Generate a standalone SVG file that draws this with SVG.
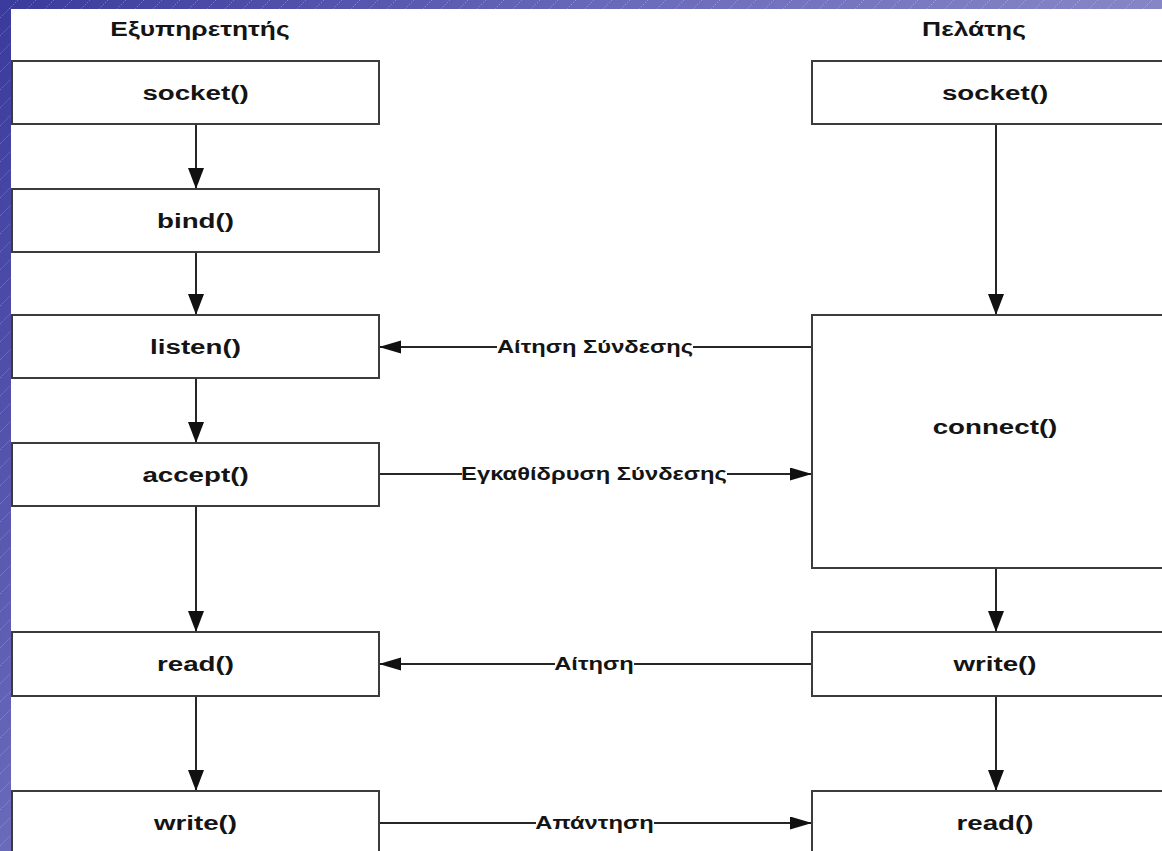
<svg xmlns="http://www.w3.org/2000/svg" width="1162" height="851" viewBox="0 0 1162 851">
  <defs>
    <linearGradient id="frameFill" gradientUnits="userSpaceOnUse" x1="0" y1="0" x2="1162" y2="851">
      <stop offset="0" stop-color="#3a3a9c"/>
      <stop offset="0.35" stop-color="#6a6abb"/>
      <stop offset="0.65" stop-color="#8686c6"/>
      <stop offset="1" stop-color="#a0a0d6"/>
    </linearGradient>
    <pattern id="hatch" patternUnits="userSpaceOnUse" width="18" height="18">
      <path d="M-2,20 L20,-2" stroke="#ffffff" stroke-opacity="0.28" stroke-width="1" stroke-dasharray="1.5 1.5"/>
    </pattern>
    <marker id="arrV" markerUnits="userSpaceOnUse" markerWidth="22" markerHeight="17" refX="21" refY="8" orient="auto" viewBox="0 0 22 17">
      <path d="M0,0 L21,8 L0,16 z" fill="#111"/>
    </marker>
    <marker id="arrH" markerUnits="userSpaceOnUse" markerWidth="23" markerHeight="14" refX="22" refY="6.5" orient="auto" viewBox="0 0 23 14">
      <path d="M0,0 L22,6.5 L0,13 z" fill="#111"/>
    </marker>
  </defs>
  <style>
    .box { fill: #ffffff; stroke: #3c3c3c; stroke-width: 2; }
    .lbl { font-family: "Liberation Sans", Arial, sans-serif; font-weight: bold; font-size: 21px; fill: #141414; text-anchor: middle; }
    .hdr { font-size: 20px; }
    .msg { font-size: 18px; }
    .flow { stroke: #262626; stroke-width: 2; fill: none; marker-end: url(#arrV); }
    .call { stroke: #262626; stroke-width: 2; fill: none; marker-end: url(#arrH); }
    .gap { fill: #ffffff; }
  </style>

  <!-- page and frame -->
  <rect width="1162" height="851" fill="#ffffff"/>
  <g id="frame">
    <rect x="0" y="0" width="1162" height="9" fill="url(#frameFill)"/>
    <rect x="0" y="0" width="11" height="851" fill="url(#frameFill)"/>
    <rect x="0" y="0" width="1162" height="9" fill="url(#hatch)"/>
    <rect x="0" y="0" width="11" height="851" fill="url(#hatch)"/>
  </g>

  <!-- column titles -->
  <g id="title-server">
    <text class="lbl hdr" transform="translate(200,36) scale(1.32,1)">Εξυπηρετητής</text>
  </g>
  <g id="title-client">
    <text class="lbl hdr" transform="translate(974,36) scale(1.32,1)">Πελάτης</text>
  </g>

  <!-- connectors -->
  <g id="connectors">
    <!-- server sequence -->
    <line class="flow" x1="196" y1="124" x2="196" y2="189"/>
    <line class="flow" x1="196" y1="252" x2="196" y2="315"/>
    <line class="flow" x1="196" y1="378" x2="196" y2="443"/>
    <line class="flow" x1="196" y1="506" x2="196" y2="632"/>
    <line class="flow" x1="196" y1="696" x2="196" y2="791"/>
    <!-- client sequence -->
    <line class="flow" x1="996" y1="124" x2="996" y2="315"/>
    <line class="flow" x1="996" y1="568" x2="996" y2="632"/>
    <line class="flow" x1="996" y1="696" x2="996" y2="791"/>
    <!-- messages between the two sides -->
    <g id="msg-request-connection">
      <line class="call" x1="812" y1="347" x2="379" y2="347"/>
      <rect class="gap" x="497" y="336" width="196" height="22"/>
      <text class="lbl msg" transform="translate(595,353) scale(1.32,1)">Αίτηση Σύνδεσης</text>
    </g>
    <g id="msg-establish-connection">
      <line class="call" x1="379" y1="474" x2="812" y2="474"/>
      <rect class="gap" x="462" y="463" width="265" height="22"/>
      <text class="lbl msg" transform="translate(594,480) scale(1.32,1)">Εγκαθίδρυση Σύνδεσης</text>
    </g>
    <g id="msg-request">
      <line class="call" x1="812" y1="664" x2="379" y2="664"/>
      <rect class="gap" x="555" y="653" width="79" height="22"/>
      <text class="lbl msg" transform="translate(594,670) scale(1.32,1)">Αίτηση</text>
    </g>
    <g id="msg-reply">
      <line class="call" x1="379" y1="823" x2="812" y2="823"/>
      <rect class="gap" x="536" y="812" width="118" height="22"/>
      <text class="lbl msg" transform="translate(594.5,829) scale(1.32,1)">Απάντηση</text>
    </g>
  </g>

  <!-- server column -->
  <g id="srv-socket">
    <rect class="box" x="12" y="61" width="367" height="63"/>
    <text class="lbl" transform="translate(195.5,100) scale(1.32,1)">socket()</text>
  </g>
  <g id="srv-bind">
    <rect class="box" x="12" y="189" width="367" height="63"/>
    <text class="lbl" transform="translate(195.5,228) scale(1.32,1)">bind()</text>
  </g>
  <g id="srv-listen">
    <rect class="box" x="12" y="315" width="367" height="63"/>
    <text class="lbl" transform="translate(195.5,354) scale(1.32,1)">listen()</text>
  </g>
  <g id="srv-accept">
    <rect class="box" x="12" y="443" width="367" height="63"/>
    <text class="lbl" transform="translate(195.5,482) scale(1.32,1)">accept()</text>
  </g>
  <g id="srv-read">
    <rect class="box" x="12" y="632" width="367" height="64"/>
    <text class="lbl" transform="translate(195.5,671) scale(1.32,1)">read()</text>
  </g>
  <g id="srv-write">
    <rect class="box" x="12" y="791" width="367" height="70"/>
    <text class="lbl" transform="translate(195.5,830) scale(1.32,1)">write()</text>
  </g>

  <!-- client column -->
  <g id="cli-socket">
    <rect class="box" x="812" y="61" width="370" height="63"/>
    <text class="lbl" transform="translate(995,100) scale(1.32,1)">socket()</text>
  </g>
  <g id="cli-connect">
    <rect class="box" x="812" y="315" width="370" height="253"/>
    <text class="lbl" transform="translate(995,434) scale(1.32,1)">connect()</text>
  </g>
  <g id="cli-write">
    <rect class="box" x="812" y="632" width="370" height="64"/>
    <text class="lbl" transform="translate(995,671) scale(1.32,1)">write()</text>
  </g>
  <g id="cli-read">
    <rect class="box" x="812" y="791" width="370" height="70"/>
    <text class="lbl" transform="translate(995,830) scale(1.32,1)">read()</text>
  </g>
</svg>
